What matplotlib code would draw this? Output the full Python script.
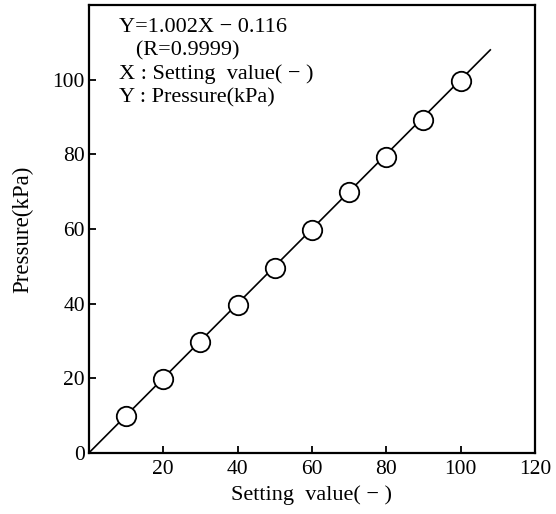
import matplotlib
matplotlib.use("Agg")
import matplotlib.pyplot as plt

# measured points
setting = [10, 20, 30, 40, 50, 60, 70, 80, 90, 100]
pressure = [9.8, 19.7, 29.7, 39.7, 49.5, 59.7, 69.8, 79.4, 89.2, 99.7]

# regression line end points
fit_x = [0, 108]
fit_y = [0, 108]

x_ticks = [20, 40, 60, 80, 100, 120]
y_ticks = [0, 20, 40, 60, 80, 100]

notes = ["Y=1.002X \u2212 0.116", "   (R=0.9999)", "X : Setting  value( \u2212 )", "Y : Pressure(kPa)"]

plt.rcParams['font.family'] = ['Liberation Serif', 'DejaVu Serif']

fig = plt.figure(figsize=(5.56, 5.14), dpi=100)
ax = fig.add_axes([0.160, 0.119, 0.802, 0.871])

ax.plot(fit_x, fit_y, color='black', lw=1.2, zorder=2)
ax.plot(setting, pressure, 'o', ms=14, mfc='white', mec='black', mew=1.3, zorder=3)

ax.set_xlim(0, 120)
ax.set_ylim(0, 120)
ax.set_xticks(x_ticks)
ax.set_yticks(y_ticks)
ax.tick_params(direction='in', length=5, width=1.3, labelsize=15.5, pad=5)
ax.tick_params(axis='y', pad=3)
for s in ax.spines.values():
    s.set_linewidth(1.6)

ax.set_xlabel('Setting  value( \u2212 )', fontsize=16, labelpad=5)
ax.set_ylabel('Pressure(kPa)', fontsize=16.5, labelpad=14)

y0 = 114
for i, t in enumerate(notes):
    ax.text(8.2, y0 - i * 6.3, t, fontsize=16, va='center', ha='left')

fig.savefig('out.png', dpi=100)
